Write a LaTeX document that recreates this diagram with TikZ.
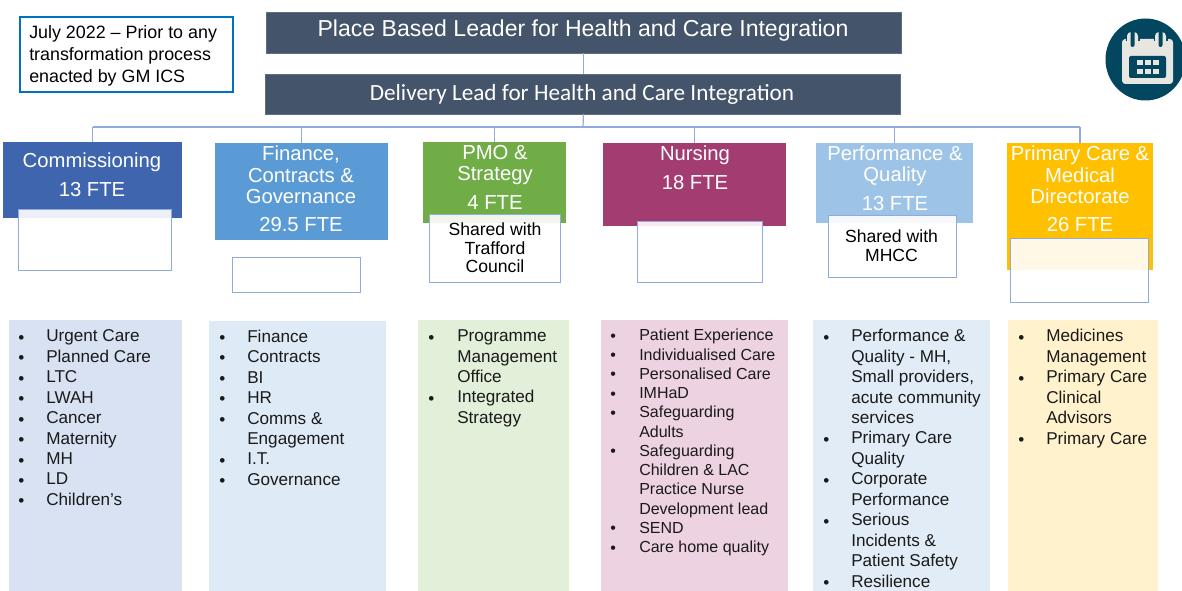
\documentclass[tikz,border=0pt]{standalone}
\usepackage{fontspec}
\setmainfont{Liberation Sans}
\newfontfamily\carl{Carlito}
\definecolor{hdrc}{HTML}{44546A}
\definecolor{wline}{HTML}{8FAADC}
\definecolor{txt}{HTML}{1A1A1A}
\definecolor{cCom}{RGB}{63,101,175}
\definecolor{cFin}{RGB}{91,155,213}
\definecolor{cPmo}{RGB}{112,173,71}
\definecolor{cNur}{RGB}{163,60,113}
\definecolor{cPer}{RGB}{157,195,230}
\definecolor{cPri}{RGB}{255,192,0}
\definecolor{lCom}{RGB}{217,226,243}
\definecolor{lFin}{RGB}{222,234,246}
\definecolor{lPmo}{RGB}{226,239,217}
\definecolor{lNur}{RGB}{237,210,225}
\definecolor{lPer}{RGB}{226,236,247}
\definecolor{lPri}{RGB}{255,242,204}
\definecolor{icoD}{RGB}{3,70,96}
\definecolor{icoL}{RGB}{231,230,224}
\tikzset{
 x=0.75pt,y=-0.75pt,
 pbox/.style n args={3}{draw=none,rectangle,inner sep=0pt,outer sep=0pt,fill=#3,minimum width=#1*0.75pt,minimum height=#2*0.75pt},
 hdr/.style 2 args={pbox={#1}{#2}{hdrc},draw=hdrc!85!white,line width=0.5pt},
 head/.style={inner sep=0pt,text=white,align=center,font=\fontsize{15.2}{16}\selectfont},
 wbox/.style 2 args={rectangle,inner sep=0pt,minimum width=#1*0.75pt-0.6pt,minimum height=#2*0.75pt-0.6pt,fill=white,fill opacity=0.9,draw=wline,line width=0.6pt},
 blab/.style={inner sep=0pt,align=center,text=black,font=\fontsize{13.2}{13.9}\selectfont},
 lst/.style={inner sep=0pt,anchor=north west,align=left,text=txt,font=\fontsize{12.85}{15.35}\selectfont},
 nfont/.style={font=\fontsize{12}{14.45}\selectfont},
 con/.style={draw=wline,line width=0.9pt},
}
\begin{document}
\begin{tikzpicture}
\useasboundingbox (0,0) rectangle (1182,591);
% headers
\node[hdr={635}{41}] (lead) at (583.5,32.5) {};
\node[hdr={635}{40}] (deliv) at (582.5,94) {};
\node[inner sep=0pt,text=white,font=\fontsize{17.3}{18}\selectfont] (leadt) at (583,30.5) {Place Based Leader for Health and Care Integration};
\node[inner sep=0pt,text=white,font=\carl\fontsize{17.4}{18}\selectfont] (delivt) at (582,94) {Delivery Lead for Health and Care Integration};
% dept boxes
\node[pbox={179}{76}{cCom}] (com) at (92.5,180) {};
\node[pbox={173}{97}{cFin}] (fin) at (301.5,191.5) {};
\node[pbox={143}{81}{cPmo}] (pmo) at (494.5,182.5) {};
\node[pbox={183}{83}{cNur}] (nur) at (694.5,184.5) {};
\node[pbox={157}{80}{cPer}] (per) at (894.5,183) {};
\node[pbox={146}{127}{cPri}] (pri) at (1080,206.5) {};
% connectors
\coordinate (bus) at (583,127);
\draw[con] (lead.south) -- (lead.south |- deliv.north);
\draw[con] (lead.south |- deliv.south) -- (bus);
\draw[con] (bus -| com.north) -- (bus -| pri.north);
\foreach \nn in {com,fin,pmo,nur,per,pri}
  \draw[con] (bus -| \nn.north) -- (\nn.north);
% note
\node[rectangle,inner sep=0pt,minimum width=213*0.75pt,minimum height=75*0.75pt,draw={rgb,255:red,0;green,112;blue,192},line width=1.5pt,fill=white] (notebox) at (126.5,54.5) {};
\node[inner sep=0pt,anchor=north west,align=left,text=black,font=\fontsize{13.4}{16.5}\selectfont] (note) at (29,25) {July 2022 – Prior to any\\transformation process\\enacted by GM ICS};
% dept text
\node[head] (c1) at (92,162) {Commissioning};
\node[head] (c2) at (92,189.5) {13 FTE};
\node[head] (f1) at (301,175) {Finance,\\Contracts \&\\Governance};
\node[head] (f2) at (301,225) {29.5 FTE};
\node[head] (p1) at (495,165) {PMO \&\\Strategy};
\node[head] (p2) at (495,203) {4 FTE};
\node[head] (n1) at (695,155) {Nursing};
\node[head] (n2) at (695,182.5) {18 FTE};
\node[head] (q1) at (895,165.5) {Performance \&\\Quality};
\node[head] (q2) at (895,203.5) {13 FTE};
\node[head] (m1) at (1080,175) {Primary Care \&\\Medical\\Directorate};
\node[head] (m2) at (1080,225) {26 FTE};
% white boxes
\node[wbox={154}{62}] (w1) at (95,240) {};
\node[wbox={129}{36}] (w2) at (296.5,275) {};
\node[wbox={132}{69}] (w3) at (495,248.5) {};
\node[wbox={126}{62}] (w4) at (700,252) {};
\node[wbox={129}{63}] (w5) at (892.5,246.5) {};
\node[wbox={139}{65}] (w6) at (1079.5,270.5) {};
\node[blab] (ws1) at (495,248) {Shared with\\Trafford\\Council};
\node[blab] (ws2) at (891.5,245.5) {Shared with\\MHCC};
% lists
\node[pbox={173}{271}{lCom}] (lb1) at (95.5,455.5) {};
\node[pbox={177}{270}{lFin}] (lb2) at (297.5,456) {};
\node[pbox={151}{271}{lPmo}] (lb3) at (493.5,455.5) {};
\node[pbox={187}{271}{lNur}] (lb4) at (694.5,455.5) {};
\node[pbox={177}{271}{lPer}] (lb5) at (901.5,455.5) {};
\node[pbox={150}{271}{lPri}] (lb6) at (1083,455.5) {};
\node[lst] (b1) at (18,335) {•\\•\\•\\•\\•\\•\\•\\•\\•};
\node[lst] (l1) at (46,329.5) {Urgent Care\\Planned Care\\LTC\\LWAH\\Cancer\\Maternity\\MH\\LD\\Children's};
\node[lst] (b2) at (219,335) {•\\•\\•\\•\\•\\\\•\\•};
\node[lst] (l2) at (247,329.5) {Finance\\Contracts\\BI\\HR\\Comms \&\\Engagement\\I.T.\\Governance};
\node[lst] (b3) at (428,335) {•\\\\\\•};
\node[lst] (l3) at (457,329.5) {Programme\\Management\\Office\\Integrated\\Strategy};
\node[lst,nfont] (b4) at (610,333.5) {•\\•\\•\\•\\•\\\\•\\\\\\\\•\\•};
\node[lst,nfont] (l4) at (639,329) {Patient Experience\\Individualised Care\\Personalised Care\\IMHaD\\Safeguarding\\Adults\\Safeguarding\\Children \& LAC\\Practice Nurse\\Development lead\\SEND\\Care home quality};
\node[lst] (b5) at (823,335) {•\\\\\\\\\\•\\\\•\\\\•\\\\\\•};
\node[lst] (l5) at (851,329) {Performance \&\\Quality - MH,\\Small  providers,\\acute community\\services\\Primary Care\\Quality\\Corporate\\Performance\\Serious\\Incidents \&\\Patient Safety\\Resilience};
\node[lst] (b6) at (1018,335) {•\\\\•\\\\\\•};
\node[lst] (l6) at (1046,329) {Medicines\\Management\\Primary Care\\Clinical\\Advisors\\Primary Care};
% icon
\fill[icoD] (1145.5,59.5) ellipse (40 and 41);
\fill[icoL,rounded corners=2.5pt] (1122,39) rectangle (1173,84);
\foreach \rx in {1132.5,1160.5}{
  \fill[icoD] (\rx-7,30) rectangle (\rx+7,41);
  \fill[icoL,rounded corners=3pt] (\rx-5.5,32) rectangle (\rx+5.5,50);
  \fill[icoD,rounded corners=1.5pt] (\rx-2,30) rectangle (\rx+2,47);
}
\fill[icoD,rounded corners=1.5pt] (1129,56) rectangle (1166,78);
\foreach \gx in {1137,1145,1153} \foreach \gy in {60,69}
  \fill[icoL] (\gx,\gy) rectangle (\gx+6,\gy+5.5);
\end{tikzpicture}
\end{document}
